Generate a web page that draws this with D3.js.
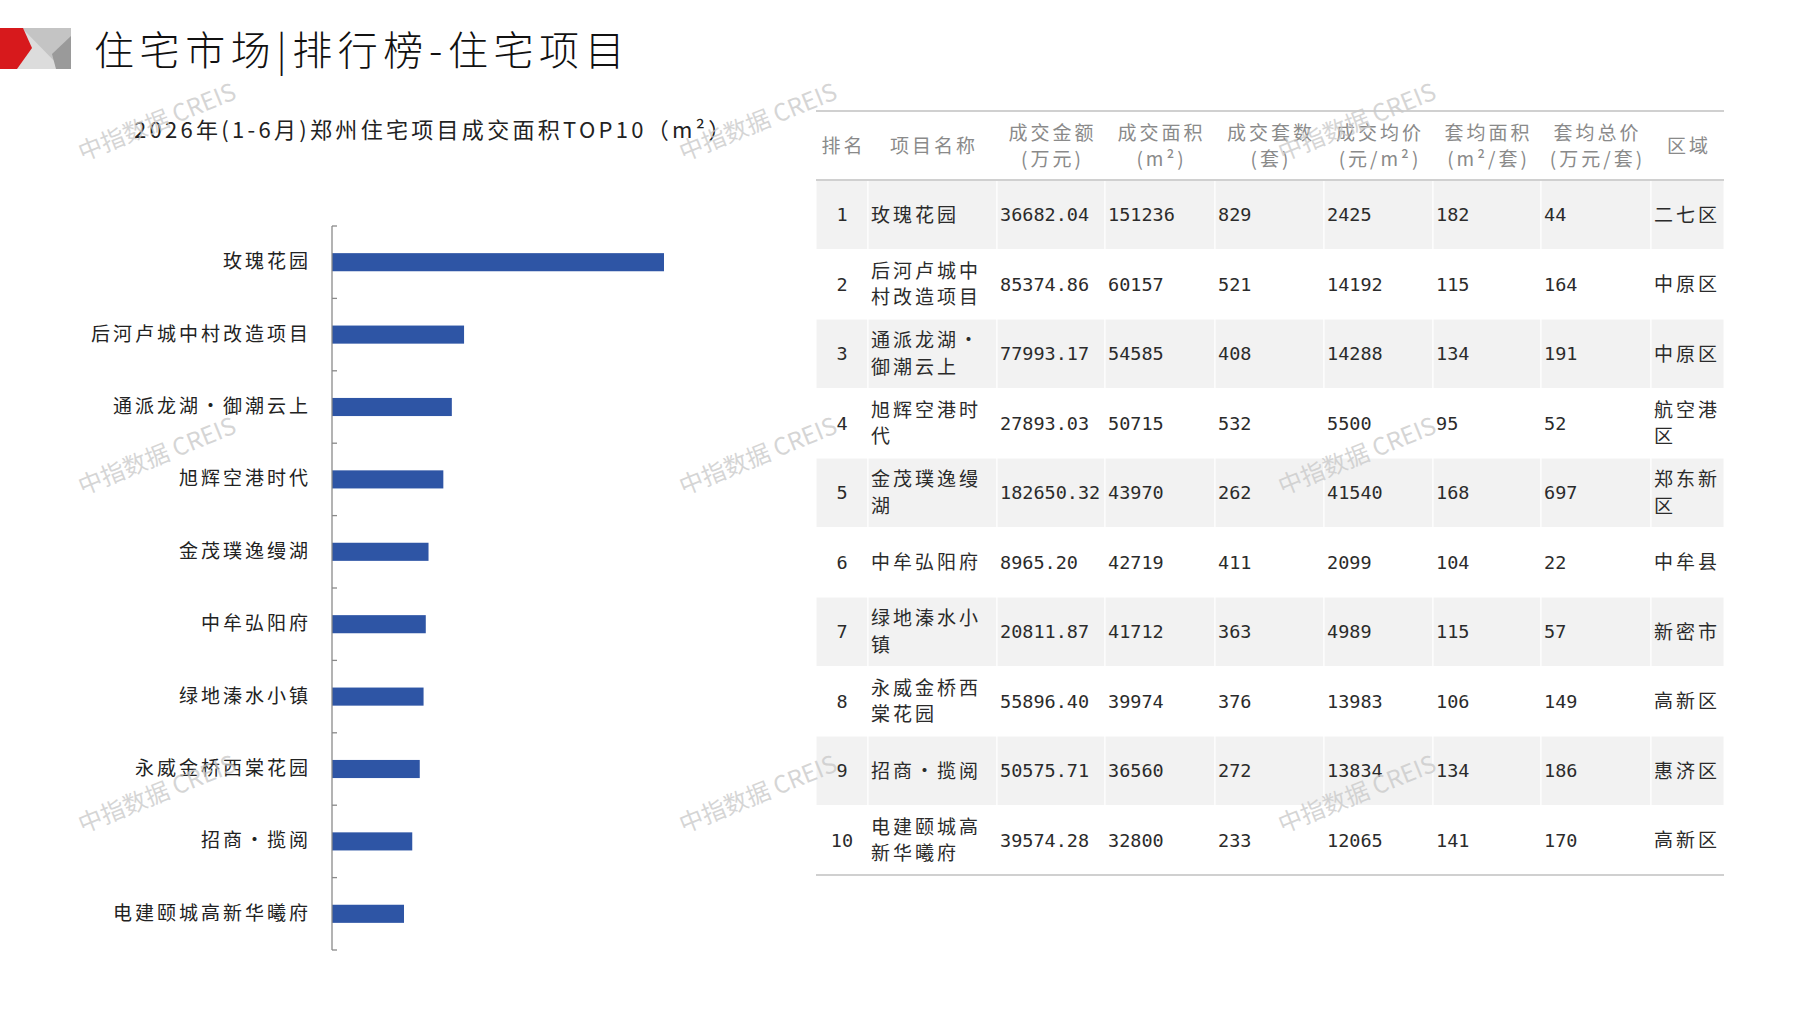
<!doctype html>
<html>
<head>
<meta charset="UTF-8">
<title>住宅市场|排行榜-住宅项目</title>
<script src="https://d3js.org/d3.v7.min.js"></script>
<style>
  body { margin: 0; background: #fff; }
  svg { display: block; }
</style>
</head>
<body>
<svg id="chart" width="1797" height="1010"></svg>
<script>
// 数据
var names = ["玫瑰花园", "后河卢城中村改造项目", "通派龙湖•御潮云上", "旭辉空港时代", "金茂璞逸缦湖",
             "中牟弘阳府", "绿地溱水小镇", "永威金桥西棠花园", "招商•揽阅", "电建颐城高新华曦府"];
var area = [151236, 60157, 54585, 50715, 43970, 42719, 41712, 39974, 36560, 32800];
var amount = [36682.04, 85374.86, 77993.17, 27893.03, 182650.32, 8965.20, 20811.87, 55896.40, 50575.71, 39574.28];
var units = [829, 521, 408, 532, 262, 411, 363, 376, 272, 233];
var price = [2425, 14192, 14288, 5500, 41540, 2099, 4989, 13983, 13834, 12065];
var avgArea = [182, 115, 134, 95, 168, 104, 115, 106, 134, 141];
var avgTotal = [44, 164, 191, 52, 697, 22, 57, 149, 186, 170];
var district = ["二七区", "中原区", "中原区", "航空港区", "郑东新区", "中牟县", "新密市", "高新区", "惠济区", "高新区"];
var headers = [["排名"], ["项目名称"], ["成交金额", "(万元)"], ["成交面积", "(m²)"], ["成交套数", "(套)"],
               ["成交均价", "(元/m²)"], ["套均面积", "(m²/套)"], ["套均总价", "(万元/套)"], ["区域"]];

var cjk = "'Noto Sans CJK SC', 'Noto Sans', sans-serif";
var num = "'DejaVu Sans Mono', 'Noto Sans CJK SC', monospace";

var svg = d3.select("#chart");

// 左上角标志
var logo = svg.append("g");
logo.append("rect").attr("x", 0).attr("y", 28).attr("width", 71).attr("height", 41).attr("fill", "#c4c4c4");
logo.append("polygon").attr("points", "22,28 62,69 16,69").attr("fill", "#dcdcdc");
logo.append("polygon").attr("points", "71,36 71,69 56,69 52,54").attr("fill", "#9a9a9a");
logo.append("polygon").attr("points", "0,28 23,28 32,48 17,69 0,69").attr("fill", "#d7191c");

// 标题
svg.append("text")
  .attr("x", 94).attr("y", 65)
  .attr("font-family", cjk).attr("font-size", 40).attr("font-weight", 300)
  .attr("letter-spacing", 5.6).attr("fill", "#111")
  .text("住宅市场|排行榜-住宅项目");

svg.append("text")
  .attr("x", 134).attr("y", 138)
  .attr("font-family", cjk).attr("font-size", 22)
  .attr("letter-spacing", 3.3).attr("fill", "#222")
  .text("2026年(1-6月)郑州住宅项目成交面积TOP10（m²）");

// 条形图
var x = d3.scaleLinear().domain([0, 151236]).range([332, 664]);
var y = d3.scaleBand().domain(names).range([226, 950]).paddingInner(0.75).paddingOuter(0.375);

svg.selectAll(".bar")
  .data(names)
  .enter()
  .append("rect")
  .attr("class", "bar")
  .attr("x", x(0))
  .attr("y", function(d) { return y(d); })
  .attr("width", function(d, i) { return x(area[i]) - x(0); })
  .attr("height", y.bandwidth())
  .attr("fill", "#2e55a5");

var yAxis = svg.append("g")
  .attr("transform", "translate(" + x(0) + ",0)")
  .call(d3.axisLeft(y).tickSize(0).tickPadding(21));
yAxis.select(".domain").remove();
yAxis.selectAll("text")
  .attr("font-family", cjk).attr("font-size", 19)
  .attr("letter-spacing", 3).attr("fill", "#222");

svg.append("line")
  .attr("x1", x(0)).attr("x2", x(0))
  .attr("y1", y.range()[0]).attr("y2", y.range()[1])
  .attr("stroke", "#8a8a8a").attr("stroke-width", 1.3);

for (var t = 0; t <= names.length; t++) {
  var ty = y.range()[0] + t * y.step();
  svg.append("line")
    .attr("x1", x(0)).attr("x2", x(0) + 5)
    .attr("y1", ty).attr("y2", ty)
    .attr("stroke", "#8a8a8a").attr("stroke-width", 1.3);
}

// 表格
var cols = [816, 868, 997, 1105, 1215, 1324, 1433, 1541, 1651, 1724];
var tTop = 111, headBottom = 180, rowH = 69.5;
var tbl = svg.append("g");

function chunk(s, n) {
  var arr = Array.from(s), out = [];
  for (var k = 0; k < arr.length; k += n) out.push(arr.slice(k, k + n).join(""));
  return out;
}

var fmt2 = d3.format(".2f");
var rows = names.map(function(d, i) {
  return [[String(i + 1)], chunk(d, 5), [fmt2(amount[i])], [String(area[i])], [String(units[i])],
          [String(price[i])], [String(avgArea[i])], [String(avgTotal[i])], chunk(district[i], 3)];
});

rows.forEach(function(r, i) {
  var top = headBottom + i * rowH;
  if (i % 2 === 0) {
    for (var c = 0; c < cols.length - 1; c++) {
      tbl.append("rect")
        .attr("x", cols[c]).attr("y", top)
        .attr("width", cols[c + 1] - cols[c]).attr("height", rowH)
        .attr("fill", "#f2f2f2").attr("stroke", "#fff").attr("stroke-width", 1);
    }
  }
  var cy = top + rowH / 2;
  r.forEach(function(lines, c) {
    var isNum = (c !== 1 && c !== 8);
    var tx = c === 0 ? (cols[0] + cols[1]) / 2 : cols[c] + 3;
    lines.forEach(function(line, k) {
      tbl.append("text")
        .attr("x", tx)
        .attr("y", cy + (k - (lines.length - 1) / 2) * 26.5)
        .attr("dy", "0.36em")
        .attr("text-anchor", c === 0 ? "middle" : "start")
        .attr("font-family", isNum ? num : cjk)
        .attr("font-size", isNum ? 18.5 : 19)
        .attr("letter-spacing", isNum ? 0 : 3)
        .attr("fill", "#2b2b2b")
        .text(line);
    });
  });
});

headers.forEach(function(lines, c) {
  var cx = (cols[c] + cols[c + 1]) / 2;
  lines.forEach(function(line, k) {
    tbl.append("text")
      .attr("x", cx + 1.5)
      .attr("y", lines.length === 1 ? 146 : 133 + k * 26)
      .attr("dy", "0.36em")
      .attr("text-anchor", "middle")
      .attr("font-family", cjk).attr("font-size", 19)
      .attr("letter-spacing", 3).attr("fill", "#8a8a8a")
      .text(line);
  });
});

[tTop, headBottom, headBottom + rows.length * rowH].forEach(function(ly) {
  tbl.append("line")
    .attr("x1", cols[0]).attr("x2", cols[cols.length - 1])
    .attr("y1", ly).attr("y2", ly)
    .attr("stroke", "#d0d0d0").attr("stroke-width", 2);
});

// 水印
var wmX = [157, 758, 1357], wmY = [122, 456, 794];
wmY.forEach(function(wy) {
  wmX.forEach(function(wx) {
    svg.append("text")
      .attr("transform", "translate(" + wx + "," + wy + ") rotate(-22)")
      .attr("text-anchor", "middle").attr("dy", "0.35em")
      .attr("font-family", cjk).attr("font-size", 24)
      .attr("fill", "#c8c8c8").attr("fill-opacity", 0.75)
      .text("中指数据 CREIS");
  });
});
</script>
</body>
</html>
